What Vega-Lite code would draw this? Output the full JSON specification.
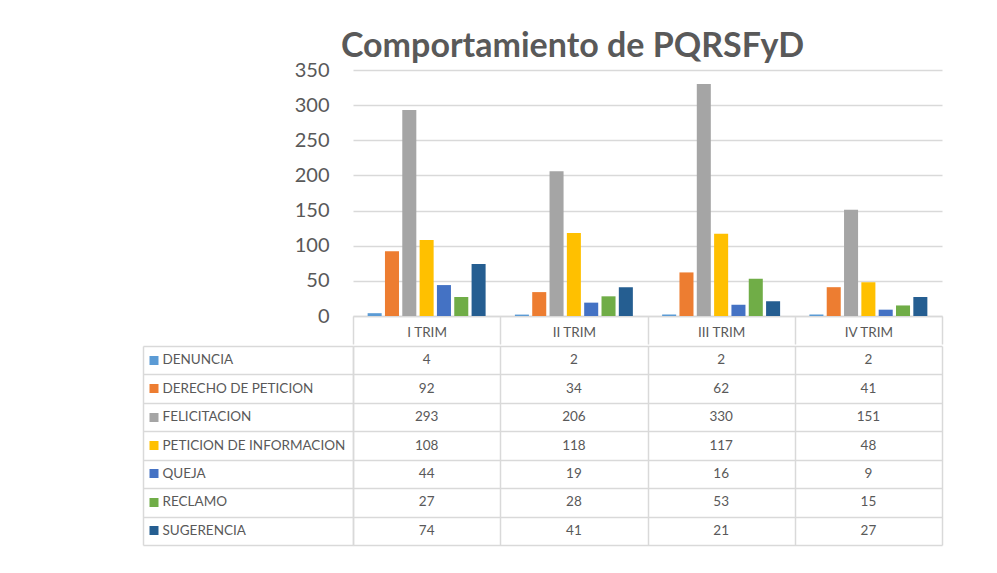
{
  "$schema": "https://vega.github.io/schema/vega-lite/v6.json",
  "background": "white",
  "padding": {"left": 142, "top": 30, "right": 5, "bottom": 5},
  "title": {"text": "Comportamiento de PQRSFyD", "font": "Lato", "fontSize": 34, "fontWeight": "bold", "color": "#595959", "anchor": "middle", "dx": 30, "offset": -4},
  "config": {"view": {"stroke": null}, "font": "Lato"},
  "data": {"values": [
    {"quarter": "I TRIM", "tipo": "DENUNCIA", "value": 4},
    {"quarter": "I TRIM", "tipo": "DERECHO DE PETICION", "value": 92},
    {"quarter": "I TRIM", "tipo": "FELICITACION", "value": 293},
    {"quarter": "I TRIM", "tipo": "PETICION DE INFORMACION", "value": 108},
    {"quarter": "I TRIM", "tipo": "QUEJA", "value": 44},
    {"quarter": "I TRIM", "tipo": "RECLAMO", "value": 27},
    {"quarter": "I TRIM", "tipo": "SUGERENCIA", "value": 74},
    {"quarter": "II TRIM", "tipo": "DENUNCIA", "value": 2},
    {"quarter": "II TRIM", "tipo": "DERECHO DE PETICION", "value": 34},
    {"quarter": "II TRIM", "tipo": "FELICITACION", "value": 206},
    {"quarter": "II TRIM", "tipo": "PETICION DE INFORMACION", "value": 118},
    {"quarter": "II TRIM", "tipo": "QUEJA", "value": 19},
    {"quarter": "II TRIM", "tipo": "RECLAMO", "value": 28},
    {"quarter": "II TRIM", "tipo": "SUGERENCIA", "value": 41},
    {"quarter": "III TRIM", "tipo": "DENUNCIA", "value": 2},
    {"quarter": "III TRIM", "tipo": "DERECHO DE PETICION", "value": 62},
    {"quarter": "III TRIM", "tipo": "FELICITACION", "value": 330},
    {"quarter": "III TRIM", "tipo": "PETICION DE INFORMACION", "value": 117},
    {"quarter": "III TRIM", "tipo": "QUEJA", "value": 16},
    {"quarter": "III TRIM", "tipo": "RECLAMO", "value": 53},
    {"quarter": "III TRIM", "tipo": "SUGERENCIA", "value": 21},
    {"quarter": "IV TRIM", "tipo": "DENUNCIA", "value": 2},
    {"quarter": "IV TRIM", "tipo": "DERECHO DE PETICION", "value": 41},
    {"quarter": "IV TRIM", "tipo": "FELICITACION", "value": 151},
    {"quarter": "IV TRIM", "tipo": "PETICION DE INFORMACION", "value": 48},
    {"quarter": "IV TRIM", "tipo": "QUEJA", "value": 9},
    {"quarter": "IV TRIM", "tipo": "RECLAMO", "value": 15},
    {"quarter": "IV TRIM", "tipo": "SUGERENCIA", "value": 27}
  ]},
  "spacing": 0,
  "vconcat": [
    {
      "width": 589,
      "height": 246,
      "mark": {"type": "bar"},
      "encoding": {
        "x": {"field": "quarter", "type": "nominal", "sort": ["I TRIM", "II TRIM", "III TRIM", "IV TRIM"],
          "scale": {"paddingInner": 0, "paddingOuter": 0},
          "axis": {"title": null, "labelAngle": 0, "labelFont": "Lato", "labelFontSize": 13.5, "labelColor": "#595959",
            "labelBaseline": "middle", "labelPadding": -12, "tickBand": "extent", "tickSize": 28, "tickColor": "#D9D9D9", "tickWidth": 1.5,
            "domainColor": "#D9D9D9", "domainWidth": 1.5, "grid": false}},
        "xOffset": {"field": "tipo", "type": "nominal",
          "sort": ["DENUNCIA", "DERECHO DE PETICION", "FELICITACION", "PETICION DE INFORMACION", "QUEJA", "RECLAMO", "SUGERENCIA"],
          "scale": {"paddingInner": 0.19, "paddingOuter": 0.845}},
        "y": {"field": "value", "type": "quantitative", "scale": {"domain": [0, 350], "nice": false},
          "axis": {"title": null, "values": [0, 50, 100, 150, 200, 250, 300, 350], "labelFont": "Lato", "labelFontSize": 20, "labelColor": "#595959",
            "labelPadding": 24, "ticks": false, "domain": false, "gridColor": "#D9D9D9", "gridWidth": 1.5}},
        "color": {"field": "tipo", "type": "nominal",
          "scale": {"domain": ["DENUNCIA", "DERECHO DE PETICION", "FELICITACION", "PETICION DE INFORMACION", "QUEJA", "RECLAMO", "SUGERENCIA"],
            "range": ["#5B9BD5", "#ED7D31", "#A5A5A5", "#FFC000", "#4472C4", "#70AD47", "#255E91"]},
          "legend": null}
      }
    },
    {
      "width": 589,
      "height": 199,
      "layer": [
        {
          "mark": {"type": "text", "font": "Lato", "fontSize": 13.5, "color": "#595959"},
          "encoding": {
            "x": {"field": "quarter", "type": "nominal", "sort": ["I TRIM", "II TRIM", "III TRIM", "IV TRIM"],
              "scale": {"paddingInner": 0, "paddingOuter": 0},
              "axis": {"title": null, "labels": false, "ticks": false, "domain": false, "grid": true, "tickBand": "extent", "gridColor": "#D9D9D9", "gridWidth": 1.5}},
            "y": {"field": "tipo", "type": "nominal",
              "sort": ["DENUNCIA", "DERECHO DE PETICION", "FELICITACION", "PETICION DE INFORMACION", "QUEJA", "RECLAMO", "SUGERENCIA"],
              "scale": {"paddingInner": 0, "paddingOuter": 0},
              "axis": {"title": null, "orient": "left", "labels": false, "tickBand": "extent", "tickSize": 210, "tickColor": "#D9D9D9", "tickWidth": 1.5,
                "domain": true, "domainColor": "#D9D9D9", "domainWidth": 1.5, "grid": true, "gridColor": "#D9D9D9", "gridWidth": 1.5}},
            "text": {"field": "value", "type": "quantitative"}
          }
        },
        {
          "mark": {"type": "point", "opacity": 0},
          "encoding": {
            "y": {"field": "tipo", "type": "nominal",
              "sort": ["DENUNCIA", "DERECHO DE PETICION", "FELICITACION", "PETICION DE INFORMACION", "QUEJA", "RECLAMO", "SUGERENCIA"],
              "axis": {"title": null, "orient": "left", "offset": 195, "domain": false, "grid": false,
                "tickSize": 9, "tickWidth": 9, "tickCap": "butt",
                "tickColor": {"condition": [
                  {"test": "datum.value === 'DENUNCIA'", "value": "#5B9BD5"},
                  {"test": "datum.value === 'DERECHO DE PETICION'", "value": "#ED7D31"},
                  {"test": "datum.value === 'FELICITACION'", "value": "#A5A5A5"},
                  {"test": "datum.value === 'PETICION DE INFORMACION'", "value": "#FFC000"},
                  {"test": "datum.value === 'QUEJA'", "value": "#4472C4"},
                  {"test": "datum.value === 'RECLAMO'", "value": "#70AD47"}
                ], "value": "#255E91"},
                "labelAlign": "left", "labelPadding": -13, "labelLimit": 0, "labelFont": "Lato", "labelFontSize": 13.5, "labelColor": "#595959"}}
          }
        },
        {
          "mark": {"type": "point", "opacity": 0},
          "encoding": {
            "y": {"field": "tipo", "type": "nominal",
              "sort": ["DENUNCIA", "DERECHO DE PETICION", "FELICITACION", "PETICION DE INFORMACION", "QUEJA", "RECLAMO", "SUGERENCIA"],
              "axis": {"title": null, "orient": "left", "offset": 210, "domain": true, "domainColor": "#D9D9D9", "domainWidth": 1.5,
                "ticks": false, "labels": false, "grid": false}}
          }
        }
      ],
      "resolve": {"axis": {"y": "independent"}}
    }
  ]
}
